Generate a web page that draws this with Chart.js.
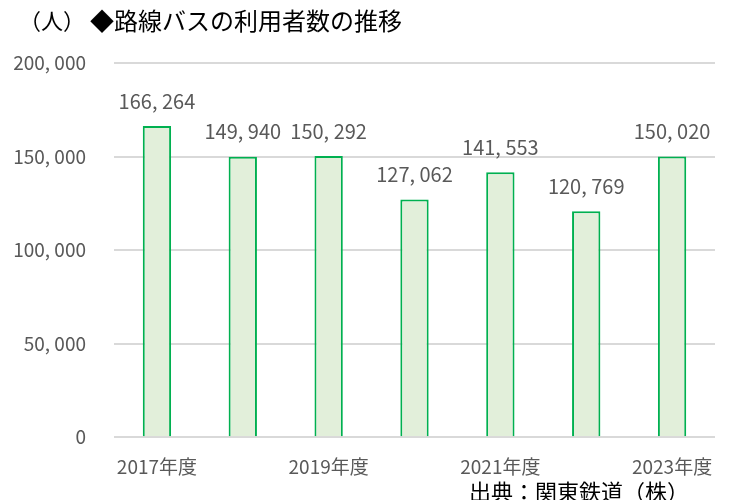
<!DOCTYPE html>
<html>
<head>
<meta charset="utf-8">
<script src="https://cdn.jsdelivr.net/npm/chart.js@4"></script>
<style>
  body { margin: 0; background: #fff; }
  #wrap { width: 731px; height: 500px; }
</style>
</head>
<body>
<div id="wrap"><canvas id="myChart" width="731" height="500"></canvas></div>
<script>
const years = ['2017年度', '2018年度', '2019年度', '2020年度', '2021年度', '2022年度', '2023年度'];
const riders = [166264, 149940, 150292, 127062, 141553, 120769, 150020];
const yTicks = [0, 50000, 100000, 150000, 200000];

const jp = '"Noto Sans CJK JP", "Noto Sans", sans-serif';
const narrow = '"Noto Sans CJK JP", sans-serif';

function fmt(v) {
  return v.toLocaleString('en-US').replace(/,/g, ', ');
}

// labels above bars + title + source
const textPlugin = {
  id: 'texts',
  afterDatasetsDraw(chart) {
    const ctx = chart.ctx;
    const meta = chart.getDatasetMeta(0);
    ctx.save();
    ctx.fillStyle = '#595959';
    ctx.font = '20px ' + narrow;
    ctx.textAlign = 'center';
    ctx.textBaseline = 'middle';
    meta.data.forEach((bar, i) => {
      ctx.fillText(fmt(riders[i]), bar.x, bar.y - 25);
    });
    ctx.fillStyle = '#000';
    ctx.textAlign = 'left';
    ctx.font = '22px ' + jp;
    ctx.fillText('（人）', 19, 21);
    ctx.font = '24px ' + jp;
    ctx.fillText('◆路線バスの利用者数の推移', 90, 21);
    ctx.font = '22px ' + jp;
    ctx.fillText('出典：関東鉄道（株）', 469, 492);
    ctx.restore();
  }
};

const data = {
  labels: years,
  datasets: [{
    data: riders,
    backgroundColor: '#e2efda',
    borderColor: '#00b050',
    borderWidth: 2,
    categoryPercentage: 1,
    barPercentage: 0.33
  }]
};

const config = {
  type: 'bar',
  data,
  options: {
    responsive: false,
    animation: false,
    layout: { padding: { top: 63, right: 16, bottom: 12, left: 0 } },
    plugins: { legend: { display: false }, tooltip: { enabled: false } },
    scales: {
      y: {
        min: 0,
        max: 200000,
        afterBuildTicks(axis) { axis.ticks = yTicks.map(v => ({ value: v })); },
        afterFit(axis) { axis.width = 114; },
        border: { display: false },
        grid: { color: '#d9d9d9', lineWidth: 2, drawTicks: false },
        ticks: {
          padding: 28,
          color: '#595959',
          font: { size: 19, family: narrow },
          callback: v => fmt(v)
        }
      },
      x: {
        border: { display: false },
        grid: { display: false },
        ticks: {
          autoSkip: false,
          maxRotation: 0,
          padding: 10,
          color: '#595959',
          font: { size: 19, family: narrow },
          callback: (v, i) => (i % 2 === 0 ? years[i] : '')
        }
      }
    }
  },
  plugins: [textPlugin]
};

const myChart = new Chart(document.getElementById('myChart'), config);
</script>
</body>
</html>
